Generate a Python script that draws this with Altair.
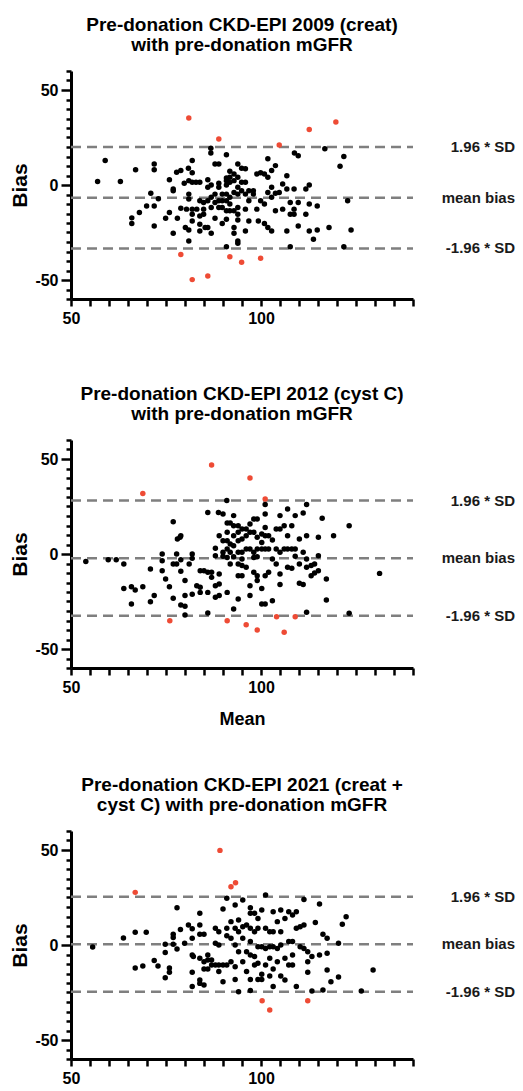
import altair as alt
import pandas as pd

FONT = "Liberation Sans"
PLOT_W = 342
PLOT_H = 228

# ---------------- Panel 1: CKD-EPI 2009 (creat) ----------------
p1_title = ["Pre-donation CKD-EPI 2009 (creat)", "with pre-donation mGFR"]
p1_limits = [20.0, -6.7, -33.4]
p1_x = [57.0, 59.0, 63.0, 67.0, 66.0, 66.0, 68.0, 69.9, 71.0, 71.9, 71.9, 71.9, 71.9, 73.0, 74.9,
        75.9, 75.9, 76.9, 76.9, 76.9, 77.8, 78.0, 78.9, 78.9, 79.8, 80.1, 80.4, 81.0, 80.9, 81.0,
        81.0, 81.0, 81.0, 81.9, 81.9, 81.9, 81.9, 81.9, 81.9, 82.9, 83.1, 83.9, 83.9, 83.9, 83.9,
        83.9, 84.9, 84.9, 84.9, 85.3, 86.0, 86.0, 86.0, 86.0, 86.8, 86.8, 86.9, 86.9, 86.9, 86.9,
        87.9, 87.9, 87.9, 87.9, 88.9, 88.9, 88.9, 88.9, 88.9, 89.8, 89.8, 89.8, 89.8, 90.9, 90.9,
        90.9, 90.9, 90.9, 90.9, 90.9, 90.9, 90.9, 91.8, 91.8, 91.8, 91.8, 91.8, 91.8, 92.9, 92.9,
        92.9, 92.9, 92.9, 92.9, 93.9, 93.9, 93.9, 93.9, 93.9, 93.9, 93.9, 93.9, 93.9, 94.9, 94.9,
        94.9, 95.9, 95.9, 95.9, 95.9, 95.9, 96.8, 96.8, 96.8, 98.0, 98.0, 98.9, 98.9, 99.3, 99.9,
        99.9, 100.9, 100.9, 100.9, 101.8, 101.8, 101.8, 101.8, 102.8, 102.8, 102.8, 102.8, 103.8,
        103.8, 103.8, 104.8, 105.7, 105.7, 106.8, 106.8, 106.8, 107.7, 107.7, 107.7, 108.7, 108.7,
        108.7, 108.8, 109.8, 109.8, 109.8, 111.8, 111.8, 112.7, 112.7, 112.7, 113.8, 114.8, 114.8,
        116.8, 117.9, 120.8, 121.8, 121.8, 122.8, 123.7]
p1_y = [1.8, 12.9, 1.8, 8.0, -17.3, -20.3, -14.5, -11.1, -4.4, 11.1, 8.0, -11.1, -21.6, -7.2, -17.5,
        -14.5, 2.8, -2.1, -3.0, -25.4, 6.7, -17.5, 7.6, -12.2, 0.9, -22.4, -12.7, -29.5, 8.8, 2.3,
        -4.8, -7.4, -23.7, 12.9, 6.4, 1.4, -12.7, -15.4, -18.9, 1.4, -12.7, 1.4, -8.3, -16.3, -20.7,
        -24.2, -9.2, -12.7, -15.4, -22.4, 2.8, -8.3, -1.2, -22.4, 19.4, 16.8, 0.0, -6.5, -11.8, -25.4,
        -4.8, -9.2, 11.1, -17.5, 11.1, 0.9, -1.2, -8.3, -11.8, -4.8, -8.3, -11.8, -20.3, 15.9, 3.7,
        2.3, 0.0, -4.8, -8.3, -13.6, -18.0, -32.5, 7.2, 4.1, 1.4, -6.5, -10.0, -13.6, 5.8, 2.3,
        -3.9, -13.6, -22.4, -25.4, 11.1, 4.1, -1.2, -4.8, -11.8, -15.4, -18.4, -29.5, -30.7, 8.8, 1.4,
        -3.0, 8.5, 1.4, -4.8, -12.7, -24.2, -3.0, -8.3, -18.9, -3.0, -4.8, 5.8, -12.7, -18.9, 6.4,
        -8.3, 5.8, -10.0, -20.3, 13.8, 4.1, -3.9, -22.4, 7.6, -1.2, -6.5, -24.2, 10.2,
        -4.4, -13.6, -3.9, 0.5, -12.7, 4.9, -2.1, -24.2, -9.2, -15.4, -32.5, -2.1, -12.7,
        -15.4, 16.8, 15.4, -9.2, -21.6, -2.1, -15.4, 0.0, -10.0, -24.2, -28.6, -11.1, -23.7,
        19.1, -22.4, 9.9, 15.0, -32.5, -8.3, -23.7]
p1_out_x = [81.0, 88.9, 104.8, 112.7, 119.7, 78.9, 81.9, 86.0, 91.8, 94.9, 99.9]
p1_out_y = [35.3, 24.2, 21.0, 29.2, 33.2, -36.6, -49.8, -47.9, -37.8, -40.6, -38.5]

# ---------------- Panel 2: CKD-EPI 2012 (cyst C) ----------------
p2_title = ["Pre-donation CKD-EPI 2012 (cyst C)", "with pre-donation mGFR"]
p2_limits = [28.1, -2.2, -32.5]
p2_x = [53.9, 59.8, 61.9, 63.9, 63.9, 65.9, 66.9, 65.9, 68.9, 70.9, 70.9, 71.9, 74.0, 74.0, 74.0,
        74.9, 75.9, 76.9, 76.9, 76.9, 77.8, 77.8, 78.0, 78.7, 78.9, 78.9, 78.9, 78.9, 80.0, 80.0,
        80.0, 80.0, 81.1, 81.9, 81.9, 81.9, 83.1, 84.0, 84.0, 84.0, 85.0, 86.0, 86.0, 86.0, 86.0,
        87.0, 87.0, 88.0, 88.0, 88.0, 88.0, 88.8, 90.0, 89.0, 89.0, 89.0, 89.0, 90.0, 90.0, 90.0,
        91.0, 91.1, 91.9, 91.1, 91.1, 91.1, 91.1, 91.1, 91.9, 91.9, 91.9, 92.8, 92.8, 92.8, 92.8,
        92.8, 92.8, 94.0, 94.0, 94.0, 94.0, 94.0, 94.0, 94.0, 95.0, 95.0, 95.0, 95.0, 95.0, 95.0,
        96.1, 96.1, 96.1, 96.1, 97.1, 97.1, 97.1, 97.1, 97.1, 98.1, 98.1, 98.1, 98.1, 98.1, 99.0,
        99.0, 99.0, 99.0, 99.0, 99.0, 100.2, 100.2, 100.2, 100.2, 100.2, 101.1, 101.1, 101.1, 101.1,
        101.1, 101.1, 101.1, 102.0, 102.0, 102.0, 103.0, 103.0, 103.0, 104.0, 104.0, 104.0, 105.0,
        105.0, 105.0, 105.0, 105.0, 106.1, 106.1, 107.0, 107.0, 107.0, 107.0, 108.1, 108.1, 108.1,
        109.0, 109.0, 109.0, 110.1, 110.1, 110.1, 111.1, 111.1, 111.1, 112.0, 112.0, 112.0, 112.0,
        112.0, 113.2, 113.2, 114.1, 114.1, 115.1, 115.1, 115.1, 116.1, 117.2, 117.2, 119.1, 123.2,
        123.2, 131.2]
p2_y = [-4.0, -3.0, -3.0, -5.3, -18.1, -17.2, -18.9, -26.3, -17.2, -7.9, -25.1, -21.9, 0.0, -3.5, -8.8,
        -13.2, -17.2, 17.0, -5.3, -23.3, 0.0, -5.3, 7.9, 8.8, 9.6, -3.0, -9.1, -26.8, -14.0, -21.9,
        -32.1, -27.5, -5.3, 0.0, -2.3, -21.2, -16.7, -17.5, -20.2, -8.8, -8.8, 21.9, -9.6, -20.2, -31.1,
        -9.6, -12.3, 3.0, -0.9, -16.7, -22.8, 21.9, 21.1, 9.6, -21.9, -15.8, -10.5, 7.0, 0.9, -1.2,
        28.1, 16.3, 16.3, 11.4, 7.0, 2.6, -1.8, -20.2, 5.3, 0.9, -5.3, 20.2, 14.9, 9.6, 4.4,
        -1.4, -28.9, -23.7, 14.9, 11.4, 7.0, 0.9, -5.3, -11.4, 13.2, 7.9, 0.9, -2.6, -6.1, -11.4,
        13.2, 9.6, 2.6, -7.0, 15.8, 11.4, 2.6, -16.7, -21.9, 18.4, 11.4, 0.9, -1.8, -9.6, 18.4,
        8.8, 2.6, -1.4, -11.4, -14.0, 10.5, 6.1, 2.6, -18.1, -26.3, 26.0, 21.1, 14.0, 9.6,
        2.6, -11.4, -26.3, 9.6, 2.6, -9.6, 7.4, -2.6, -24.6, 13.2, 2.6, -5.3, 20.2,
        13.2, 0.9, -10.5, -16.1, 14.9, 2.6, 23.7, 9.6, 2.6, -7.0, 14.9, 2.6, -7.5,
        20.2, 2.6, -1.2, 7.9, -5.3, -15.4, 21.6, 0.9, -16.1, 26.0, 9.6, -2.6, -7.0,
        -30.7, -6.1, -11.4, -5.3, -10.0, 8.8, -0.9, -8.8, 18.8, -13.2, -24.2, 9.6, 14.9,
        -31.2, -10.2]
p2_out_x = [68.9, 87.0, 97.1, 101.1, 76.0, 91.1, 96.1, 99.0, 104.1, 106.1, 109.0]
p2_out_y = [31.9, 46.8, 40.0, 28.9, -35.1, -35.1, -37.2, -40.0, -33.0, -41.2, -33.0]

# ---------------- Panel 3: CKD-EPI 2021 (creat + cyst C) ----------------
p3_title = ["Pre-donation CKD-EPI 2021 (creat +", "cyst C) with pre-donation mGFR"]
p3_limits = [25.4, 0.4, -24.6]
p3_x = [55.7, 63.8, 66.9, 66.9, 68.9, 69.8, 71.9, 72.9, 74.8, 74.8, 74.8, 75.9, 75.9, 76.9, 76.9,
        76.9, 77.9, 77.9, 78.8, 79.9, 80.9, 81.9, 81.9, 81.9, 81.9, 81.9, 82.2, 83.9, 83.9, 83.9,
        83.9, 83.9, 83.9, 85.0, 85.0, 85.0, 85.0, 86.0, 86.0, 86.0, 87.0, 87.0, 88.0, 88.0, 88.0,
        88.9, 88.9, 88.9, 88.9, 90.0, 90.0, 90.0, 91.0, 91.0, 91.0, 91.0, 92.1, 92.1, 92.1, 93.2,
        93.2, 93.2, 93.2, 93.2, 94.1, 94.1, 94.1, 94.1, 95.2, 95.2, 95.2, 95.2, 96.2, 96.2, 96.2,
        97.2, 97.2, 97.2, 97.2, 97.2, 97.2, 97.2, 98.3, 98.3, 98.3, 98.3, 99.2, 99.2, 99.2, 99.2,
        99.2, 100.2, 100.2, 100.2, 100.2, 101.2, 101.2, 101.2, 101.2, 102.3, 102.3, 102.3, 102.3,
        103.2, 103.2, 103.2, 103.2, 103.2, 104.3, 104.3, 104.3, 105.2, 105.2, 105.2, 105.2, 106.3,
        106.3, 106.3, 107.3, 107.3, 107.3, 108.3, 108.3, 108.3, 108.3, 109.3, 109.3, 109.3, 110.3,
        110.3, 111.3, 111.3, 111.3, 112.3, 112.3, 112.3, 113.4, 113.4, 114.3, 115.4, 115.4, 116.3,
        116.3, 117.4, 117.4, 117.4, 118.4, 120.4, 120.4, 121.4, 122.4, 126.4, 129.5]
p3_y = [-1.1, 3.7, 6.7, -12.1, -11.1, 6.7, -8.1, -11.1, 0.4, -4.0, -17.2, -12.1, -14.4, 5.6, 3.9,
        0.4, 19.6, -2.1, 8.2, 0.9, 10.5, 8.6, 3.5, -5.3, -14.4, -21.9, -6.1, 16.7, 10.5, 5.6,
        -7.0, -18.4, -20.2, -21.1, 5.6, -8.8, -12.6, -5.3, -7.9, -12.6, -7.9, -10.5, 8.8, 0.9, -10.5,
        7.0, 0.0, -10.5, -14.0, 18.9, -19.3, -10.5, 24.6, 8.8, 4.9, -10.5, 12.3, 3.5, -8.8, 21.1,
        8.8, 0.0, -11.4, -18.1, -24.6, 13.2, 7.0, -3.5, 23.7, 9.6, 3.5, -8.8, 10.5, -3.5, -14.0,
        19.6, 16.7, 8.8, 1.8, -5.3, -18.1, -24.0, 16.7, 7.0, -6.1, -10.5, 14.0, 8.8, -0.9, -9.6,
        -18.1, 18.4, -0.9, -15.4, -18.1, 26.3, 8.8, -1.8, -10.5, 7.0, -0.9, -7.0, -16.3,
        17.5, 7.0, -0.9, -12.6, -21.9, 12.3, -1.8, -8.8, 18.4, 7.0, 0.0, -16.3, 14.0,
        -7.0, -18.4, 17.5, 1.8, -10.5, 15.8, 1.8, -5.3, -10.5, 17.5, 8.8, -21.9, 9.6,
        -0.9, 24.0, 10.5, -1.8, -3.5, -8.8, -14.4, -6.1, -24.2, 11.8, 21.6, -5.3, 5.6,
        -23.7, 3.5, -4.4, -13.2, -19.3, 0.9, -16.8, 10.9, 14.9, -24.2, -13.2]
p3_out_x = [66.9, 89.2, 92.1, 93.3, 100.3, 102.3, 112.3]
p3_out_y = [27.7, 49.8, 30.7, 32.8, -29.3, -34.2, -29.3]

limit_labels = ["1.96 * SD", "mean bias", "-1.96 * SD"]
x_ticks = list(range(50, 141, 5))
y_ticks = list(range(-60, 61, 5))

# label only every 50, written with a plain hyphen for negatives
MAJOR_LABEL = "datum.value % 50 === 0 ? '' + datum.value : ''"


def y_axis():
    return alt.Axis(
        values=y_ticks,
        labelExpr=MAJOR_LABEL,
        tickSize={"condition": {"test": "datum.value % 50 === 0", "value": 10}, "value": 5},
        tickWidth=2.5, domainWidth=3,
        labelFontSize=16, labelFontWeight="bold", labelPadding=3,
        titleFontSize=21, titleFontWeight="bold", titlePadding=4,
        labelFlush=False, labelOverlap=False,
    )


def bland_altman(title, xs, ys, out_x, out_y, limits, x_title):
    pts = pd.DataFrame({
        "mean": xs + out_x,
        "bias": ys + out_y,
        "group": ["within"] * len(xs) + ["outside"] * len(out_x),
    })
    lim = pd.DataFrame({"value": limits, "label": limit_labels})

    x_enc = alt.X(
        "mean:Q",
        scale=alt.Scale(domain=[50, 140], nice=False, zero=False),
        title=x_title,
        axis=alt.Axis(
            values=x_ticks,
            labelExpr=MAJOR_LABEL,
            tickSize=7, tickWidth=2.5, domainWidth=3,
            labelFontSize=16, labelFontWeight="bold", labelPadding=4,
            titleFontSize=18, titleFontWeight="bold", titlePadding=15,
            labelFlush=False, labelOverlap=False,
        ),
    )
    y_scale = alt.Scale(domain=[-60, 60], nice=False, zero=False)

    # limits of agreement as dashed grey lines
    rules = alt.Chart(lim).mark_rule(
        color="#7f7f7f", strokeWidth=2.5, strokeDash=[10, 6]
    ).encode(
        y=alt.Y("value:Q", scale=y_scale, title="Bias", axis=y_axis()),
        x=alt.value(0),
        x2=alt.value(PLOT_W),
    )
    labels = alt.Chart(lim).mark_text(
        align="right", baseline="middle", font=FONT, fontSize=15,
        fontWeight="bold", color="#1a1a1a",
    ).encode(
        y=alt.Y("value:Q", scale=y_scale, title="Bias", axis=y_axis()),
        x=alt.value(444),
        text="label:N",
    )
    dots = alt.Chart(pts).mark_circle(size=30, opacity=1).encode(
        x=x_enc,
        y=alt.Y("bias:Q", scale=y_scale, title="Bias", axis=y_axis()),
        color=alt.Color(
            "group:N",
            scale=alt.Scale(domain=["within", "outside"], range=["#000000", "#EE4B35"]),
            legend=None,
        ),
    )
    return alt.layer(rules, dots, labels).properties(
        width=PLOT_W,
        height=PLOT_H,
        title=alt.TitleParams(
            text=title, font=FONT, fontSize=19, fontWeight="bold",
            lineHeight=20, anchor="middle", frame="group", offset=8, color="#000000",
        ),
    )


top_two = alt.vconcat(
    bland_altman(p1_title, p1_x, p1_y, p1_out_x, p1_out_y, p1_limits, None),
    bland_altman(p2_title, p2_x, p2_y, p2_out_x, p2_out_y, p2_limits, "Mean"),
    spacing=59,
)

chart = alt.vconcat(
    top_two,
    bland_altman(p3_title, p3_x, p3_y, p3_out_x, p3_out_y, p3_limits, None),
    spacing=48,
).properties(
    padding={"left": 9, "top": 16, "right": 2, "bottom": 2},
).configure(
    font=FONT,
).configure_view(
    stroke=None,
).configure_axis(
    grid=False, domainColor="#000000", tickColor="#000000",
    labelColor="#000000", titleColor="#000000", labelFont=FONT, titleFont=FONT,
)

chart.save("out.html", embed_options={"renderer": "svg", "actions": False})
